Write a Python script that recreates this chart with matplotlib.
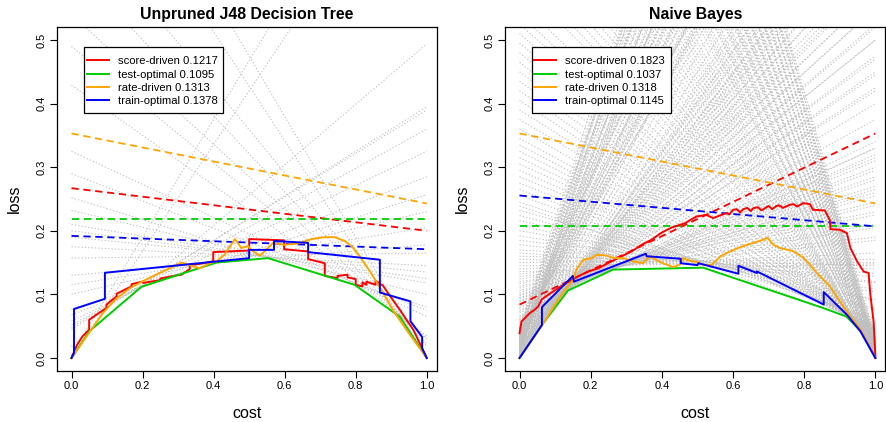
import matplotlib
matplotlib.use("Agg")
import matplotlib.pyplot as plt
from matplotlib.patches import Rectangle

plt.rcParams['font.family'] = ['Liberation Sans', 'DejaVu Sans']

# ---------------- data: Unpruned J48 Decision Tree ----------------
# grey cost lines: loss at cost=0 (left) and cost=1 (right)
j48_grey_left = [0.0, 0.005, 0.018, 0.045, 0.048, 0.052, 0.058, 0.068, 0.0765, 0.10,
                 0.115, 0.130, 0.157, 0.175, 0.19, 0.20, 0.21, 0.232, 0.252, 0.29,
                 0.325, 0.429, 0.49, 0.54, 0.62, 0.70, 0.855, 0.95]
j48_grey_right = [0.84, 0.93, 0.494, 0.395, 0.39, 0.36, 0.325, 0.285, 0.257, 0.23,
                  0.205, 0.178, 0.165, 0.145, 0.135, 0.125, 0.118, 0.10, 0.080, 0.075,
                  0.065, 0.035, 0.032, 0.03, 0.022, 0.018, 0.0, 0.0]

j48_red_x = [0, 0.015, 0.031, 0.0496, 0.0496, 0.07, 0.0985, 0.0985, 0.127, 0.127, 0.169, 0.169,
             0.2016, 0.2016, 0.25, 0.25, 0.286, 0.31, 0.333, 0.333, 0.36, 0.399, 0.399, 0.5, 0.5,
             0.5985, 0.5985, 0.666, 0.666, 0.713, 0.713, 0.749, 0.749, 0.777, 0.777, 0.80, 0.80,
             0.819, 0.819, 0.830, 0.830, 0.856, 0.856, 0.877, 0.891, 0.924, 0.962, 1.0]
j48_red_y = [0, 0.02, 0.034, 0.0445, 0.060, 0.068, 0.0786, 0.084, 0.097, 0.101, 0.1127, 0.116,
             0.1204, 0.118, 0.1225, 0.125, 0.129, 0.131, 0.140, 0.1466, 0.148, 0.152, 0.1665, 0.169, 0.187,
             0.185, 0.171, 0.1675, 0.1555, 0.149, 0.129, 0.1257, 0.129, 0.131, 0.1267, 0.124, 0.115,
             0.1126, 0.119, 0.115, 0.12, 0.115, 0.1215, 0.1136, 0.102, 0.076, 0.0445, 0.0]

j48_green_x = [0, 0.05, 0.197, 0.408, 0.553, 0.797, 0.924, 1.0]
j48_green_y = [0, 0.042, 0.112, 0.150, 0.157, 0.115, 0.065, 0.0]

j48_orange_x = [0, 0.05, 0.089, 0.127, 0.165, 0.202, 0.249, 0.277, 0.31, 0.333, 0.361, 0.389, 0.408,
                0.43, 0.46, 0.478, 0.497, 0.506, 0.53, 0.548, 0.567, 0.6, 0.638, 0.676, 0.713, 0.741,
                0.769, 0.79, 0.811, 0.839, 0.867, 0.905, 0.952, 1.0]
j48_orange_y = [0, 0.040, 0.071, 0.094, 0.110, 0.121, 0.134, 0.141, 0.150, 0.146, 0.141, 0.149, 0.152,
                0.162, 0.187, 0.173, 0.176, 0.170, 0.161, 0.170, 0.181, 0.178, 0.180, 0.187, 0.190, 0.190,
                0.184, 0.175, 0.16, 0.137, 0.112, 0.075, 0.037, 0.0]

j48_blue_x = [0, 0.007, 0.007, 0.094, 0.094, 0.50, 0.50, 0.570, 0.570, 0.666, 0.666, 0.868, 0.868,
              0.954, 0.954, 0.987, 0.987, 1.0]
j48_blue_y = [0, 0.008, 0.077, 0.093, 0.134, 0.157, 0.170, 0.170, 0.184, 0.181, 0.1665, 0.1545, 0.103,
              0.089, 0.058, 0.033, 0.015, 0.0]

# dashed expected-loss lines (value at cost 0, value at cost 1): red, green, orange, blue
j48_dash_start = [0.267, 0.219, 0.353, 0.192]
j48_dash_end = [0.200, 0.219, 0.243, 0.171]
j48_labels = ["score-driven 0.1217", "test-optimal 0.1095", "rate-driven 0.1313", "train-optimal 0.1378"]

# ---------------- data: Naive Bayes ----------------
nb_grey_left = [
    # steep rising fan from the origin
    0.000, 0.002, 0.003, 0.005, 0.006, 0.008, 0.009, 0.011, 0.012, 0.014, 0.015, 0.017, 0.018,
    0.020, 0.021, 0.023, 0.025, 0.026, 0.028, 0.030, 0.031, 0.033, 0.035, 0.036, 0.038, 0.040,
    0.041, 0.043, 0.045,
    0.001, 0.004, 0.007, 0.010, 0.013, 0.016, 0.019, 0.022, 0.024, 0.027, 0.029, 0.032, 0.034,
    0.037, 0.039, 0.042, 0.044, 0.046, 0.047, 0.048,
    # rising lines near the left hull
    0.000, 0.001, 0.002, 0.003, 0.004, 0.0054, 0.007, 0.008, 0.010, 0.011, 0.012, 0.014, 0.015,
    0.017, 0.018, 0.020, 0.021, 0.023, 0.025, 0.026, 0.028, 0.030, 0.031, 0.033, 0.035, 0.036,
    0.038, 0.040, 0.042, 0.043, 0.045, 0.047, 0.049, 0.050, 0.052, 0.054, 0.056, 0.058, 0.060,
    0.062, 0.064, 0.066, 0.0707,
    # flat lines near the middle of the hull
    0.073, 0.075, 0.078, 0.080, 0.083, 0.085, 0.088, 0.090, 0.093, 0.095, 0.098, 0.100, 0.103,
    0.106, 0.110, 0.113, 0.117, 0.120, 0.124, 0.128, 0.132, 0.1359, 0.140, 0.145, 0.150, 0.155,
    0.160, 0.165, 0.170, 0.178, 0.185, 0.192, 0.200, 0.208, 0.216, 0.224, 0.232, 0.239, 0.245,
    0.256, 0.265, 0.275, 0.285, 0.295,
    # falling lines near the right hull
    0.305, 0.315, 0.325, 0.335, 0.345, 0.36, 0.375, 0.39, 0.405, 0.42, 0.435, 0.45, 0.465, 0.48,
    0.495, 0.51, 0.525, 0.54, 0.56, 0.593, 0.61, 0.63, 0.65, 0.67, 0.69, 0.71, 0.73, 0.75, 0.77,
    0.79, 0.81, 0.83, 0.85, 0.87, 0.89, 0.91, 0.93, 0.95, 0.97, 0.99, 1.02,
    # steep falling fan into cost=1
    1.05, 1.08, 1.12, 1.15, 1.19, 1.23, 1.27, 1.31, 1.35, 1.39, 1.43, 1.47, 1.51, 1.55, 1.59,
    1.63, 1.67, 1.71, 1.75, 1.79, 1.83, 1.87, 1.91, 1.95, 2.00,
    1.06, 1.10, 1.14, 1.17, 1.21, 1.25, 1.29, 1.33, 1.37, 1.41, 1.45, 1.49, 1.53, 1.57, 1.61,
    1.65, 1.69, 1.73, 1.77, 1.81, 1.85, 1.89, 1.93, 1.97]
nb_grey_right = [
    1.00, 1.80, 1.05, 1.70, 1.10, 1.62, 1.15, 1.55, 1.20, 1.48, 1.25, 1.42, 1.30,
    1.36, 1.33, 1.28, 1.39, 1.22, 1.45, 1.17, 1.52, 1.12, 1.58, 1.07, 1.65, 1.02,
    1.72, 0.98, 1.77,
    1.40, 1.12, 1.66, 1.03, 1.50, 1.18, 1.75, 1.08, 1.60, 1.35, 1.01, 1.44, 1.27,
    1.69, 1.14, 1.56, 1.05, 1.31, 1.63, 1.21,
    0.825, 0.90, 0.86, 0.95, 0.80, 0.745, 0.84, 0.77, 0.80, 0.74, 0.76, 0.72, 0.78,
    0.70, 0.73, 0.68, 0.71, 0.665, 0.69, 0.64, 0.66, 0.61, 0.64, 0.595, 0.62, 0.575,
    0.60, 0.55, 0.575, 0.525, 0.55, 0.50, 0.52, 0.475, 0.50, 0.45, 0.47, 0.425, 0.445,
    0.40, 0.42, 0.375, 0.330,
    0.34, 0.32, 0.33, 0.31, 0.315, 0.295, 0.30, 0.28, 0.285, 0.265, 0.27, 0.255, 0.26,
    0.24, 0.245, 0.225, 0.23, 0.205, 0.21, 0.185, 0.19, 0.148, 0.165, 0.15, 0.155, 0.14,
    0.145, 0.128, 0.133, 0.118, 0.12, 0.104, 0.108, 0.09, 0.092, 0.075, 0.078, 0.051, 0.062,
    0.048, 0.058, 0.052, 0.055, 0.047,
    0.050, 0.045, 0.048, 0.043, 0.046, 0.041, 0.044, 0.038, 0.041, 0.035, 0.038, 0.033, 0.035, 0.030,
    0.033, 0.027, 0.030, 0.025, 0.027, 0.019, 0.024, 0.020, 0.022, 0.017, 0.019, 0.014, 0.016, 0.012, 0.014,
    0.010, 0.012, 0.009, 0.010, 0.007, 0.008, 0.005, 0.006, 0.0035, 0.004, 0.0015, 0.0,
    0.000, 0.004, 0.001, 0.006, 0.002, 0.008, 0.003, 0.010, 0.004, 0.012, 0.005, 0.014, 0.006, 0.016, 0.007,
    0.018, 0.008, 0.020, 0.009, 0.022, 0.010, 0.024, 0.011, 0.026, 0.012,
    0.010, 0.002, 0.012, 0.003, 0.014, 0.005, 0.016, 0.006, 0.018, 0.007, 0.020, 0.008, 0.022, 0.009, 0.024,
    0.010, 0.026, 0.011, 0.028, 0.012, 0.030, 0.013, 0.015, 0.032]

nb_red_x = [0.0, 0.0056, 0.015, 0.029, 0.043, 0.0525, 0.062, 0.081, 0.109, 0.132, 0.160, 0.193,
            0.221, 0.259, 0.287, 0.315, 0.343, 0.371, 0.399, 0.427, 0.465, 0.497, 0.525, 0.544,
            0.582, 0.59, 0.600, 0.61, 0.62, 0.629, 0.64, 0.65, 0.657, 0.67, 0.68, 0.694, 0.70,
            0.71, 0.722, 0.73, 0.74, 0.760, 0.77, 0.78, 0.797, 0.816, 0.825, 0.858, 0.872, 0.874,
            0.9, 0.920, 0.930, 0.9486, 0.967, 0.981, 0.986, 0.995, 1.0, 1.0]
nb_red_y = [0.039, 0.0575, 0.0627, 0.0707, 0.076, 0.0812, 0.092, 0.0995, 0.110, 0.118, 0.127, 0.136,
            0.141, 0.152, 0.160, 0.1675, 0.178, 0.186, 0.197, 0.205, 0.212, 0.2225, 0.225, 0.220,
            0.228, 0.226, 0.233, 0.234, 0.229, 0.234, 0.236, 0.231, 0.2356, 0.237, 0.232, 0.237, 0.239,
            0.234, 0.239, 0.240, 0.236, 0.241, 0.242, 0.238, 0.2435, 0.242, 0.233, 0.232, 0.217, 0.2026,
            0.2016, 0.1965, 0.173, 0.152, 0.136, 0.1336, 0.0995, 0.0576, 0.005, 0.0]

nb_green_x = [0, 0.063, 0.136, 0.263, 0.516, 0.854, 0.919, 0.959, 1.0]
nb_green_y = [0, 0.052, 0.106, 0.139, 0.142, 0.0785, 0.065, 0.042, 0.0]

nb_orange_x = [0, 0.062, 0.0994, 0.131, 0.151, 0.160, 0.178, 0.202, 0.217, 0.240, 0.268, 0.291, 0.319,
               0.347, 0.366, 0.385, 0.403, 0.432, 0.45, 0.46, 0.478, 0.497, 0.516, 0.539, 0.563, 0.582,
               0.61, 0.629, 0.657, 0.68, 0.697, 0.713, 0.732, 0.769, 0.797, 0.816, 0.835, 0.872, 0.9,
               0.929, 0.958, 1.0]
nb_orange_y = [0, 0.05, 0.084, 0.11, 0.123, 0.139, 0.154, 0.157, 0.162, 0.1615, 0.157, 0.157, 0.152,
               0.149, 0.160, 0.154, 0.149, 0.143, 0.1466, 0.157, 0.153, 0.151, 0.1466, 0.146, 0.159, 0.165,
               0.172, 0.176, 0.181, 0.185, 0.189, 0.178, 0.173, 0.168, 0.158, 0.147, 0.134, 0.113, 0.089,
               0.066, 0.045, 0.0]

nb_blue_x = [0, 0.063, 0.063, 0.150, 0.153, 0.355, 0.357, 0.453, 0.453, 0.50, 0.503, 0.615, 0.615,
             0.667, 0.667, 0.855, 0.855, 0.92, 0.958, 1.0]
nb_blue_y = [0, 0.052, 0.080, 0.129, 0.120, 0.164, 0.160, 0.156, 0.149, 0.146, 0.149, 0.1325, 0.145,
             0.1336, 0.1362, 0.084, 0.1037, 0.068, 0.042, 0.0]

nb_dash_start = [0.084, 0.208, 0.353, 0.2555]
nb_dash_end = [0.353, 0.208, 0.243, 0.207]
nb_labels = ["score-driven 0.1823", "test-optimal 0.1037", "rate-driven 0.1318", "train-optimal 0.1145"]

x_ticks = [0.0, 0.2, 0.4, 0.6, 0.8, 1.0]
y_ticks = [0.0, 0.1, 0.2, 0.3, 0.4, 0.5]

# ---------------- style ----------------
C_RED = "#FF0000"
C_GREEN = "#00CD00"
C_ORANGE = "#FFA500"
C_BLUE = "#0000FF"
C_GREY = "#BEBEBE"
COLORS = [C_RED, C_GREEN, C_ORANGE, C_BLUE]

W, H = 886, 422
AX_TOP, AX_BOT = 27.3, 370.7
fig = plt.figure(figsize=(W / 100, H / 100), dpi=100)


def panel(x0, x1, title, gl, gr, curves, dstart, dend, labels, box_px):
    ax = fig.add_axes([x0 / W, 1 - AX_BOT / H, (x1 - x0) / W, (AX_BOT - AX_TOP) / H])
    fx = lambda px: (px - x0) / (x1 - x0)
    fy = lambda py: (AX_BOT - py) / (AX_BOT - AX_TOP)

    for a, b in zip(gl, gr):
        ax.plot([0, 1], [a, b], color=C_GREY, lw=0.75, linestyle=(0, (1.2, 2.0)), zorder=1)
    for s, e, c in zip(dstart, dend, COLORS):
        ax.plot([0, 1], [s, e], color=c, lw=1.3, linestyle=(0, (4, 2.6)), zorder=2)
    handles = []
    for (xs, ys), c in zip(curves, COLORS):
        ln, = ax.plot(xs, ys, color=c, lw=1.4, zorder=3)
        handles.append(ln)

    ax.set_xlim(-0.04, 1.028)
    ax.set_ylim(-0.02, 0.52)
    ax.set_xticks(x_ticks)
    ax.set_xticklabels([f"{v:.1f}" for v in x_ticks])
    ax.set_yticks(y_ticks)
    ax.set_yticklabels([f"{v:.1f}" for v in y_ticks], rotation=90, va="center")
    ax.tick_params(direction="out", length=5, width=0.8, labelsize=8, pad=2.5, color="black")
    for sp in ax.spines.values():
        sp.set_linewidth(0.9)
        sp.set_color("black")
    ax.set_title(title, fontsize=11.4, fontweight="bold", pad=6)
    ax.set_xlabel("cost", fontsize=11.5, labelpad=10.5)
    ax.set_ylabel("loss", fontsize=11.5, labelpad=11)

    # legend box (R style) + entries
    bl, br, bt, bb = box_px
    ax.add_patch(Rectangle((fx(bl), fy(bb)), fx(br) - fx(bl), fy(bt) - fy(bb),
                           transform=ax.transAxes, facecolor="white", edgecolor="black",
                           lw=0.9, zorder=4, clip_on=False))
    leg = ax.legend(handles=handles, labels=labels, loc="upper left",
                    bbox_to_anchor=(fx(bl + 2.7), fy(bt + 9.5)), borderaxespad=0,
                    frameon=False, fontsize=8.1, handlelength=1.93, handletextpad=0.8,
                    labelspacing=0.30, borderpad=0)
    leg.set_zorder(5)
    return ax


panel(57.3, 436.7, "Unpruned J48 Decision Tree", j48_grey_left, j48_grey_right,
      [(j48_red_x, j48_red_y), (j48_green_x, j48_green_y),
       (j48_orange_x, j48_orange_y), (j48_blue_x, j48_blue_y)],
      j48_dash_start, j48_dash_end, j48_labels, (84.3, 223.3, 46.7, 113.3))

panel(505.3, 885.3, "Naive Bayes", nb_grey_left, nb_grey_right,
      [(nb_red_x, nb_red_y), (nb_green_x, nb_green_y),
       (nb_orange_x, nb_orange_y), (nb_blue_x, nb_blue_y)],
      nb_dash_start, nb_dash_end, nb_labels, (531.7, 670.7, 46.7, 113.3))

fig.savefig("out.png", dpi=100)
